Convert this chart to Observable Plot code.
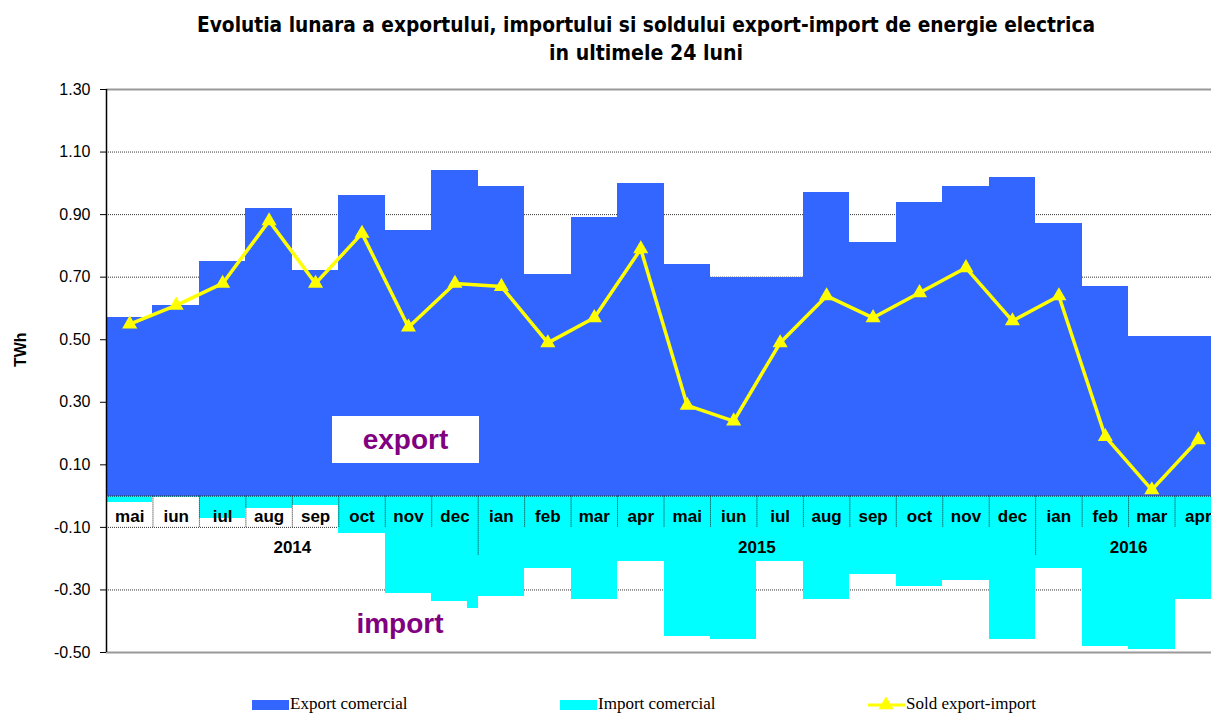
<!DOCTYPE html>
<html><head><meta charset="utf-8">
<script src="https://cdn.jsdelivr.net/npm/d3@7"></script>
<script src="https://cdn.jsdelivr.net/npm/@observablehq/plot@0.6"></script>
<style>
html,body{margin:0;padding:0;background:#fff;overflow:hidden;}
#wrap{position:relative;width:1211px;height:713px;overflow:hidden;background:#fff;}
#title{position:absolute;left:0;top:0;}
#chart{position:absolute;left:0;top:70px;width:1222px;height:622px;}
#chart svg{max-width:none !important;width:1222px !important;height:622px !important;}
.box{position:absolute;background:#fff;color:#800080;font:bold 28px "Liberation Sans",Arial,sans-serif;text-align:center;}
.leg{position:absolute;font:17px "Liberation Serif","Times New Roman",serif;color:#000;white-space:nowrap;}
.sw{position:absolute;}
</style></head>
<body><div id="wrap">
<svg id="title" width="1211" height="70"></svg>
<div id="chart"></div>
<div class="box" id="expBox" style="left:332px;top:416px;width:147px;height:47px;line-height:47px;"></div>
<div class="box" id="impBox" style="left:333px;top:601px;width:134px;height:48px;line-height:46px;"></div>
<div id="legend"></div>
</div>
<script>
// ---- data ----
const titleLines = ["Evolutia lunara a exportului, importului si soldului export-import de energie electrica", "in ultimele 24 luni"];
const months = ["mai","iun","iul","aug","sep","oct","nov","dec","ian","feb","mar","apr","mai","iun","iul","aug","sep","oct","nov","dec","ian","feb","mar","apr"];
const monthYears = ["2014","2014","2014","2014","2014","2014","2014","2014",
  "2015","2015","2015","2015","2015","2015","2015","2015","2015","2015","2015","2015",
  "2016","2016","2016","2016"];
const exportVals = [0.57,0.61,0.75,0.92,0.72,0.96,0.85,1.04,0.99,0.71,0.89,1.00,0.74,0.70,0.70,0.97,0.81,0.94,0.99,1.02,0.87,0.67,0.51,0.51];
const importVals = [-0.02,-0.005,-0.07,-0.04,-0.03,-0.12,-0.31,-0.36,-0.32,-0.23,-0.33,-0.21,-0.45,-0.46,-0.21,-0.33,-0.25,-0.29,-0.27,-0.46,-0.23,-0.48,-0.49,-0.33];
const soldVals = [0.55,0.61,0.68,0.88,0.68,0.84,0.54,0.68,0.67,0.49,0.57,0.79,0.29,0.24,0.49,0.64,0.57,0.65,0.73,0.56,0.64,0.19,0.02,0.18];
const yTicks = [-0.5,-0.3,-0.1,0.1,0.3,0.5,0.7,0.9,1.1,1.3];
const seriesNames = ["Export comercial","Import comercial","Sold export-import"];
const seriesColors = ["#3366FF","#00FFFF","#FFFF00"];
const annotations = ["export","import"];
const yLabel = "TWh";

// ---- derived table ----
const rows = months.map((m,i)=>({i, month:m, year:monthYears[i], exp:exportVals[i], imp:importVals[i], sold:soldVals[i]}));
const yearGroups = d3.groups(rows, d=>d.year).map(([year, rs]) => ({year, center: d3.mean(rs, r=>r.i+0.5)}));
const seps = rows.slice(1).map(r => ({i:r.i, yearStart: r.year !== rows[r.i-1].year}));

// ---- title ----
const tsvg = d3.select("#title");
const tLens = [898, 194];
const tYs = [32, 60];
titleLines.forEach((t,k)=>{
  tsvg.append("text").attr("x",646).attr("y",tYs[k]).attr("text-anchor","middle")
    .attr("textLength",tLens[k]).attr("lengthAdjust","spacingAndGlyphs")
    .attr("font-family","'Liberation Sans Narrow','DejaVu Sans Condensed','Liberation Sans',sans-serif")
    .attr("font-weight","bold").attr("font-size",21).attr("fill","#000").text(t);
});

// ---- chart ----
const LABEL_Y = -0.066, YEAR_Y = -0.163, MONTH_SEP = -0.10, YEAR_SEP = -0.19;
const fmt = v => v.toFixed(2);
const chart = Plot.plot({
  width:1222, height:622, marginLeft:106, marginRight:1, marginTop:19, marginBottom:40,
  x:{domain:[0,24], axis:null},
  y:{domain:[-0.5,1.3], axis:null},
  style:{fontFamily:"'Liberation Sans', Arial, sans-serif", fontSize:"16px", color:"#000", background:"transparent", overflow:"visible"},
  marks:[
    Plot.ruleY(yTicks.filter(v=>v>-0.5 && v<1.3), {stroke:"#333", strokeDasharray:"1,1", strokeWidth:1}),
    Plot.rect(rows, {x1:"i", x2:d=>d.i+1, y1:0, y2:"exp", fill:seriesColors[0], shapeRendering:"crispEdges"}),
    Plot.rect(rows, {x1:"i", x2:d=>d.i+1, y1:0, y2:"imp", fill:seriesColors[1], shapeRendering:"crispEdges"}),
    Plot.ruleY([1.3, -0.5], {stroke:"#999", strokeWidth:2}),
    Plot.ruleY([0], {stroke:"#222", strokeDasharray:"1,1"}),
    Plot.ruleX(seps, {x:"i", y1:0, y2:d=>d.yearStart?YEAR_SEP:MONTH_SEP, stroke:"#222", strokeDasharray:"1,1"}),
    Plot.text(rows, {x:d=>d.i+0.5, y:LABEL_Y, text:"month", fontWeight:"bold", fontSize:17, fill:"#000"}),
    Plot.text(yearGroups, {x:"center", y:YEAR_Y, text:"year", fontWeight:"bold", fontSize:17, fill:"#000"}),
    Plot.line(rows, {x:d=>d.i+0.5, y:"sold", stroke:seriesColors[2], strokeWidth:3.5}),
    Plot.dot(rows, {x:d=>d.i+0.5, y:"sold", symbol:"triangle", r:5.6, fill:seriesColors[2], stroke:"none"}),
    Plot.ruleX([0], {y1:-0.5, y2:1.3, stroke:"#000", strokeWidth:1.5}),
    Plot.axisY({ticks:yTicks, tickFormat:fmt, tickSize:6, tickPadding:10, label:null, stroke:"#000", fontSize:16}),
    Plot.text([yLabel], {frameAnchor:"left", text:d=>d, rotate:-90, dx:-86, dy:-4, fontWeight:"bold", fontSize:16, fill:"#000"})
  ]
});
document.getElementById("chart").appendChild(chart);

// ---- annotation boxes ----
document.getElementById("expBox").textContent = annotations[0];
document.getElementById("impBox").textContent = annotations[1];

// ---- legend ----
const wrap = document.getElementById("wrap");
const legX = [252, 560, 868];
seriesNames.forEach((name,k)=>{
  const sw = document.createElementNS("http://www.w3.org/2000/svg","svg");
  sw.setAttribute("class","sw"); sw.setAttribute("width",38); sw.setAttribute("height",16);
  sw.style.left = legX[k]+"px"; sw.style.top = "697px";
  if (k<2) {
    sw.innerHTML = `<rect x="0" y="3" width="37" height="10" fill="${seriesColors[k]}"/>`;
  } else {
    sw.innerHTML = `<line x1="0" y1="8" x2="37" y2="8" stroke="${seriesColors[k]}" stroke-width="3"/><path d="${d3.symbol(d3.symbolTriangle, Math.PI*5.6*5.6)()}" transform="translate(18,8)" fill="${seriesColors[k]}"/>`;
  }
  wrap.appendChild(sw);
  const t = document.createElement("div");
  t.className="leg"; t.textContent=name;
  t.style.left = (legX[k]+38)+"px"; t.style.top = "694px";
  wrap.appendChild(t);
});
</script>
</body></html>
